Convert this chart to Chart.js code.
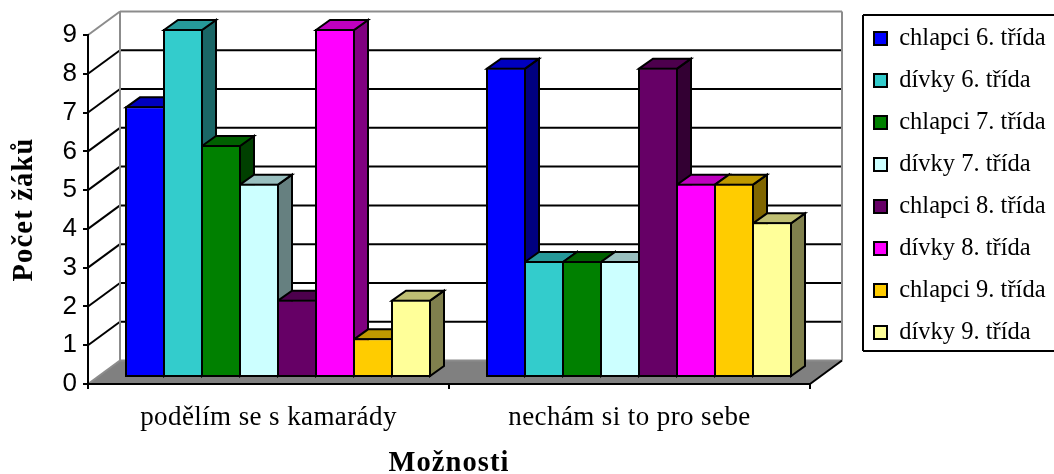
<!DOCTYPE html>
<html lang="cs">
<head>
<meta charset="utf-8">
<title>Počet žáků</title>
<style>html,body{margin:0;padding:0;background:#fff}canvas{display:block}</style>
<script src="https://cdn.jsdelivr.net/npm/chart.js@4"></script>
</head>
<body>
<canvas id="c" width="1054" height="474"></canvas>
<script>
const categories = ['podělím se s kamarády', 'nechám si to pro sebe'];
const seriesNames = ['chlapci 6. třída','dívky 6. třída','chlapci 7. třída','dívky 7. třída','chlapci 8. třída','dívky 8. třída','chlapci 9. třída','dívky 9. třída'];
const chlapci6 = [7, 8];
const divky6 = [9, 3];
const chlapci7 = [6, 3];
const divky7 = [5, 3];
const chlapci8 = [2, 8];
const divky8 = [9, 5];
const chlapci9 = [1, 5];
const divky9 = [2, 4];
const seriesValues = [chlapci6, divky6, chlapci7, divky7, chlapci8, divky8, chlapci9, divky9];
const colors = ['#0000FF','#33CCCC','#008000','#CCFFFF','#660066','#FF00FF','#FFCC00','#FFFF99'];
const yTicks = [0,1,2,3,4,5,6,7,8,9];

const SERIF = '"Liberation Serif","Times New Roman",serif';
const SANS = '"Liberation Sans",Arial,sans-serif';
const WALL = {dx: 32, dy: -23.5};   // depth of the chart box
const BAR = {dx: 14, dy: -10, shift: 9.5};  // depth of a bar, shift of the bar plane
const LEGEND_FONT = 24.5, LEGEND_PAD = 17.5;

function shade(hex, f) {
  const n = parseInt(hex.slice(1), 16);
  const c = [(n >> 16) & 255, (n >> 8) & 255, n & 255].map(v => Math.round(v * f));
  return 'rgb(' + c.join(',') + ')';
}
function poly(ctx, pts, fill, stroke, lw) {
  ctx.beginPath();
  pts.forEach((p, i) => i ? ctx.lineTo(p[0], p[1]) : ctx.moveTo(p[0], p[1]));
  ctx.closePath();
  if (fill) { ctx.fillStyle = fill; ctx.fill(); }
  if (stroke) { ctx.strokeStyle = stroke; ctx.lineWidth = lw; ctx.lineJoin = 'miter'; ctx.stroke(); }
}
function line(ctx, x1, y1, x2, y2, color, lw) {
  ctx.beginPath(); ctx.moveTo(x1, y1); ctx.lineTo(x2, y2);
  ctx.strokeStyle = color; ctx.lineWidth = lw; ctx.stroke();
}
function spaced(scale, method, spacing) {
  const orig = scale[method];
  scale[method] = function (...args) {
    const ctx = this.ctx;
    ctx.letterSpacing = spacing;
    orig.apply(this, args);
    ctx.letterSpacing = '0px';
  };
}

const box3d = {
  id: 'box3d',
  beforeLayout(chart) {
    const l = chart.legend;
    if (!l._sized) {
      const fit = l.fit;
      l.fit = function () { fit.call(this); this.width = 244; };
      l._sized = true;
      spaced(chart.scales.x, 'drawTitle', '1.1px');
      spaced(chart.scales.y, 'drawTitle', '1.2px');
      spaced(chart.scales.x, 'drawLabels', '0.4px');
    }
  },
  afterLayout(chart) {
    const l = chart.legend;
    l.left = 874 - LEGEND_PAD; l.right = 1054; l.top = 38.5 - LEGEND_PAD - LEGEND_FONT / 2; l.bottom = 474;
  },
  beforeDraw(chart) {
    const ctx = chart.ctx, a = chart.chartArea, y = chart.scales.y;
    const FRAME = '#8c8c8c';
    ctx.save();
    const bx = a.left + WALL.dx, ex = a.right + WALL.dx;
    const y0 = y.getPixelForValue(0), yMax = y.getPixelForValue(9);
    // floor
    poly(ctx, [[a.left, y0], [bx, y0 + WALL.dy], [ex, y0 + WALL.dy], [a.right, y0]], '#808080');
    // grid on the back and left walls
    yTicks.forEach(v => {
      if (v === 0 || v === 9) return;
      const p = y.getPixelForValue(v);
      line(ctx, a.left, p, bx, p + WALL.dy, '#000', 2);
      line(ctx, bx, p + WALL.dy, ex, p + WALL.dy, '#000', 2);
    });
    // frame
    line(ctx, a.left, yMax, bx, yMax + WALL.dy, FRAME, 2);
    line(ctx, a.left, y0, bx, y0 + WALL.dy, FRAME, 2);
    line(ctx, bx, yMax + WALL.dy, ex, yMax + WALL.dy, FRAME, 2);
    line(ctx, bx, yMax + WALL.dy, bx, y0 + WALL.dy, FRAME, 2);
    line(ctx, ex, yMax + WALL.dy, ex, y0 + WALL.dy, FRAME, 2);
    line(ctx, bx, y0 + WALL.dy, ex, y0 + WALL.dy, FRAME, 2);
    line(ctx, a.right, y0, ex, y0 + WALL.dy, '#000', 2);
    // legend frame
    line(ctx, 1056, 15, 863, 15, '#000', 2);
    line(ctx, 863, 15, 863, 351, '#000', 2);
    line(ctx, 863, 351, 1056, 351, '#000', 2);
    ctx.restore();
  },
  beforeDatasetsDraw(chart) {
    const ctx = chart.ctx;
    ctx.save();
    ctx.translate(BAR.shift, 0);
    chart.data.datasets.forEach((ds, d) => {
      chart.getDatasetMeta(d).data.forEach(el => {
        const p = el.getProps(['x', 'y', 'width', 'base'], true);
        const l = p.x - p.width / 2 + 1, r = p.x + p.width / 2 - 1;
        const t = p.y + 1, b = p.base - 1;
        poly(ctx, [[r, t], [r + BAR.dx, t + BAR.dy], [r + BAR.dx, b + BAR.dy], [r, b]], shade(colors[d], 0.5), '#000', 2);
        poly(ctx, [[l, t], [l + BAR.dx, t + BAR.dy], [r + BAR.dx, t + BAR.dy], [r, t]], shade(colors[d], 0.75), '#000', 2);
      });
    });
  },
  afterDatasetsDraw(chart) {
    chart.ctx.restore();
  }
};

new Chart(document.getElementById('c'), {
  type: 'bar',
  plugins: [box3d],
  data: {
    labels: categories,
    datasets: seriesNames.map((name, i) => ({
      label: name,
      data: seriesValues[i],
      backgroundColor: colors[i],
      borderColor: '#000',
      borderWidth: 2,
      borderSkipped: false,
      yAxisID: 'yBars',
      clip: false,
      categoryPercentage: 304 / 361,
      barPercentage: 40 / 38
    }))
  },
  options: {
    responsive: false,
    animation: false,
    devicePixelRatio: 1,
    layout: { padding: { top: 35, left: 0, right: 0, bottom: 0 } },
    plugins: {
      tooltip: { enabled: false },
      title: { display: false },
      legend: {
        display: true,
        position: 'right',
        align: 'start',
        labels: {
          boxWidth: 13, boxHeight: 13, padding: LEGEND_PAD, color: '#000',
          font: { family: SERIF, size: LEGEND_FONT }
        }
      }
    },
    scales: {
      x: {
        type: 'category',
        offset: true,
        afterFit: s => { s.height = 90; },
        border: { color: '#000', width: 2 },
        grid: { offset: true, drawOnChartArea: false, drawTicks: true, tickLength: 5, color: '#000', lineWidth: 2 },
        ticks: { color: '#000', font: { family: SERIF, size: 27 }, padding: 13, maxRotation: 0, autoSkip: false },
        title: { display: true, text: 'Možnosti', color: '#000', font: { family: SERIF, size: 28.5, weight: 'bold', lineHeight: 0.7 }, padding: { top: 0, bottom: 0 } }
      },
      y: {
        type: 'linear',
        position: 'left',
        min: 0,
        max: 9,
        afterFit: s => { s.width = 88; },
        border: { color: '#000', width: 2 },
        grid: { drawOnChartArea: false, drawTicks: true, tickLength: 5, color: '#000', lineWidth: 2 },
        ticks: { stepSize: 1, color: '#000', font: { family: SANS, size: 26 }, padding: 6 },
        title: { display: true, text: 'Počet žáků', color: '#000', font: { family: SERIF, size: 28.5, weight: 'bold', lineHeight: 0.7 }, padding: { top: 15, bottom: 0 } }
      },
      yBars: {
        type: 'linear',
        display: false,
        position: 'left',
        min: -0.181,
        max: 8.845
      }
    }
  }
});
</script>
</body>
</html>
